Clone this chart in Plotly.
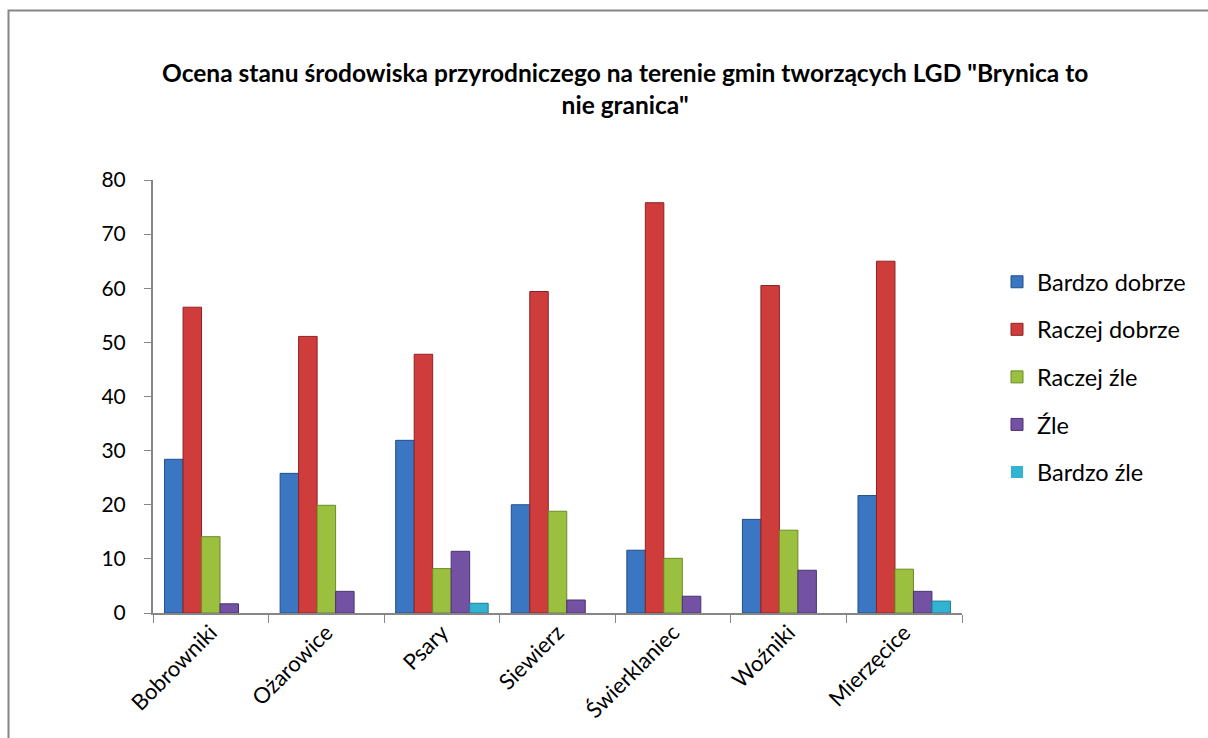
import plotly.graph_objects as go

categories = ["Bobrowniki", "Ożarowice", "Psary", "Siewierz", "Świerklaniec", "Woźniki", "Mierzęcice"]
series_names = ["Bardzo dobrze", "Raczej dobrze", "Raczej źle", "Źle", "Bardzo źle"]
bardzo_dobrze = [28.4, 25.8, 31.9, 20.0, 11.6, 17.3, 21.7]
raczej_dobrze = [56.5, 51.1, 47.8, 59.4, 75.8, 60.5, 65.0]
raczej_zle = [14.1, 19.9, 8.2, 18.8, 10.1, 15.3, 8.1]
zle = [1.7, 4.0, 11.4, 2.4, 3.1, 7.9, 4.0]
bardzo_zle = [0, 0, 1.8, 0, 0, 0, 2.2]
y_ticks = [0, 10, 20, 30, 40, 50, 60, 70, 80]
title_line1 = 'Ocena stanu środowiska przyrodniczego na terenie gmin tworzących LGD "Brynica to'
title_line2 = 'nie granica"'

colors = ["#3A76C2", "#CF3C3C", "#9BC03F", "#7352A3", "#31B3D1"]
edge_colors = ["#1F4E8C", "#8E2222", "#6A8C24", "#4B3272", "#1E7E96"]

W, H = 1208, 738
PL, PR, PT, PB = 153, 962, 180, 613


def px_x(p):
    return (p - PL) / (PR - PL)


def px_y(p):
    return (PB - p) / (PB - PT)


FONT = "Lato, 'Open Sans', sans-serif"

fig = go.Figure()
all_values = [bardzo_dobrze, raczej_dobrze, raczej_zle, zle, bardzo_zle]
for name, vals, c, ec in zip(series_names, all_values, colors, edge_colors):
    fig.add_trace(go.Bar(
        x=categories, y=vals, name=name, legendgroup=name,
        marker=dict(color=c, line=dict(color=ec, width=[0 if v == 0 else 1 for v in vals])),
    ))

fig.update_layout(
    width=W, height=H, autosize=False,
    margin=dict(l=PL, r=W - PR, t=PT, b=H - PB, pad=0),
    paper_bgcolor="white", plot_bgcolor="white",
    barmode="group", bargap=0.2, bargroupgap=0,
    font=dict(family=FONT, color="#000000"),
    showlegend=True,
    legend=dict(
        x=px_x(997), y=px_y(377), xanchor="left", yanchor="middle",
        xref="paper", yref="paper",
        font=dict(size=23.5, family=FONT, color="#000000"),
        traceorder="grouped", tracegroupgap=14,
        bgcolor="rgba(0,0,0,0)",
    ),
    xaxis=dict(
        type="category", tickangle=-45, tickson="boundaries",
        ticks="outside", ticklen=8, tickcolor="#868686",
        showline=True, linecolor="#868686", linewidth=2,
        showgrid=False, tickfont=dict(size=22, family=FONT),
        ticklabelstandoff=-4,
    ),
    yaxis=dict(
        range=[0, 80], tickvals=y_ticks, ticks="outside", ticklen=7,
        tickcolor="#868686", showline=True, linecolor="#868686", linewidth=2,
        showgrid=False, zeroline=False, tickfont=dict(size=21, family=FONT),
        ticklabelstandoff=14,
    ),
    shapes=[dict(
        type="rect", xref="paper", yref="paper",
        x0=px_x(8.5), x1=px_x(1400), y0=px_y(900), y1=px_y(10.5),
        line=dict(color="#868686", width=2), fillcolor="rgba(0,0,0,0)", layer="below",
    )],
    annotations=[dict(
        text="<b>" + title_line1 + "</b><br><b>" + title_line2 + "</b>",
        xref="paper", yref="paper", x=px_x(625), y=px_y(56),
        xanchor="center", yanchor="top", showarrow=False,
        font=dict(size=24.5, family=FONT, color="#000000"),
        align="center",
    )],
)

fig.write_html("out.html", config={"displayModeBar": False},
               post_script="document.body.style.margin='0';")
